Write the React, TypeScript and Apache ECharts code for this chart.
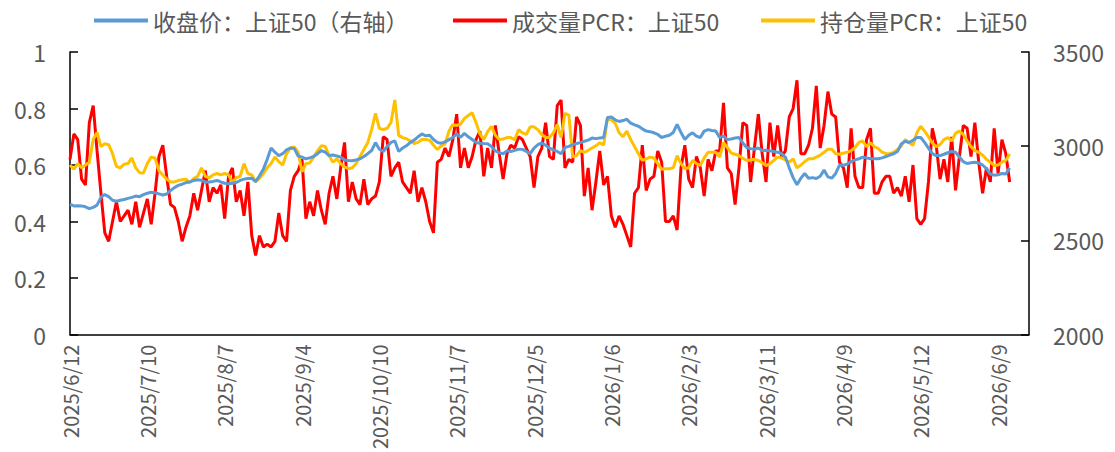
import React, { useEffect, useRef } from "react";
import * as echarts from "echarts";

const FONT = "'Noto Sans CJK SC', 'Noto Sans', sans-serif";

const START_DATE = "2025-06-12";
const CATEGORY_COUNT = 249;
const HOLIDAYS = [
  "2025-10-01", "2025-10-02", "2025-10-03", "2025-10-06", "2025-10-07", "2025-10-08",
  "2026-01-01", "2026-01-02",
  "2026-02-16", "2026-02-17", "2026-02-18", "2026-02-19", "2026-02-20", "2026-02-23",
  "2026-04-06", "2026-05-01", "2026-05-04", "2026-05-05", "2026-06-19",
];

function buildTradingDays(): string[] {
  const out: string[] = [];
  const d = new Date(START_DATE + "T00:00:00Z");
  while (out.length < CATEGORY_COUNT) {
    const wd = d.getUTCDay();
    const iso = d.toISOString().slice(0, 10);
    if (wd !== 0 && wd !== 6 && HOLIDAYS.indexOf(iso) < 0) {
      out.push(`${d.getUTCFullYear()}/${d.getUTCMonth() + 1}/${d.getUTCDate()}`);
    }
    d.setUTCDate(d.getUTCDate() + 1);
  }
  return out;
}

const categories = buildTradingDays();

const SERIES_NAMES = ["收盘价：上证50（右轴）", "成交量PCR：上证50", "持仓量PCR：上证50"];

// 收盘价：上证50 (right axis)
const close50 = [
  2692, 2683, 2684, 2683, 2678, 2668, 2675, 2687, 2728, 2743,
  2732, 2713, 2708, 2713, 2717, 2723, 2728, 2735, 2732, 2743,
  2750, 2755, 2753, 2747, 2741, 2746, 2765, 2780, 2792, 2798,
  2807, 2810, 2818, 2822, 2819, 2810, 2810, 2813, 2818, 2810,
  2803, 2800, 2803, 2807, 2818, 2825, 2828, 2830, 2812, 2843,
  2878, 2930, 2990, 2968, 2950, 2960, 2981, 2990, 2987, 2948,
  2942, 2933, 2938, 2945, 2960, 2977, 2968, 2950, 2953, 2948,
  2942, 2927, 2924, 2923, 2927, 2933, 2945, 2960, 2977, 3019,
  2984, 2972, 2998, 3020, 3028, 2972, 2990, 3002, 3020, 3032,
  3050, 3065, 3055, 3058, 3035, 3020, 3016, 3023, 3035, 3046,
  3065, 3047, 3068, 3050, 3035, 3020, 3016, 3014, 3013, 2998,
  2975, 2965, 2960, 2975, 2972, 2978, 2984, 2983, 2972, 2960,
  2990, 3008, 3017, 3005, 2990, 2980, 2972, 2960, 2993, 2999,
  3008, 3014, 3019, 3026, 3032, 3043, 3040, 3043, 3046, 3152,
  3155, 3140, 3131, 3136, 3143, 3122, 3113, 3106, 3092, 3080,
  3077, 3071, 3062, 3046, 3053, 3058, 3073, 3115, 3073, 3035,
  3058, 3071, 3053, 3046, 3080, 3088, 3083, 3080, 3046, 3053,
  3035, 3038, 3043, 3046, 3017, 2993, 2987, 2984, 2990, 2977,
  2978, 2975, 2972, 2968, 2960, 2942, 2885, 2833, 2795, 2830,
  2855, 2830, 2833, 2828, 2840, 2873, 2837, 2830, 2855, 2900,
  2899, 2905, 2918, 2927, 2933, 2942, 2938, 2933, 2933, 2933,
  2938, 2945, 2953, 2960, 2972, 3013, 3026, 3019, 3032, 3046,
  3046, 3020, 2990, 2960, 2950, 2950, 2957, 2965, 2972, 2968,
  2942, 2918, 2908, 2912, 2915, 2911, 2900, 2881, 2852, 2846,
  2848, 2855, 2852, 2885,
];

// 成交量PCR：上证50
const volumePCR = [
  0.62, 0.71, 0.69, 0.55, 0.53, 0.75, 0.81, 0.65, 0.50, 0.36,
  0.33, 0.40, 0.47, 0.40, 0.42, 0.44, 0.39, 0.47, 0.38, 0.43,
  0.48, 0.39, 0.50, 0.63, 0.67, 0.56, 0.46, 0.45, 0.40, 0.33,
  0.38, 0.42, 0.50, 0.44, 0.51, 0.58, 0.47, 0.52, 0.50, 0.53,
  0.41, 0.56, 0.59, 0.47, 0.51, 0.42, 0.54, 0.35, 0.28, 0.35,
  0.31, 0.32, 0.31, 0.33, 0.43, 0.35, 0.33, 0.51, 0.56, 0.58,
  0.62, 0.41, 0.47, 0.42, 0.51, 0.44, 0.39, 0.50, 0.56, 0.48,
  0.59, 0.68, 0.47, 0.54, 0.48, 0.46, 0.55, 0.46, 0.48, 0.49,
  0.54, 0.70, 0.69, 0.56, 0.59, 0.61, 0.54, 0.52, 0.50, 0.58,
  0.47, 0.52, 0.47, 0.40, 0.36, 0.61, 0.62, 0.66, 0.63, 0.69,
  0.78, 0.59, 0.66, 0.59, 0.63, 0.69, 0.72, 0.56, 0.66, 0.59,
  0.74, 0.64, 0.55, 0.64, 0.67, 0.66, 0.70, 0.69, 0.66, 0.63,
  0.52, 0.63, 0.66, 0.75, 0.63, 0.62, 0.81, 0.83, 0.59, 0.62,
  0.61, 0.77, 0.74, 0.49, 0.59, 0.44, 0.54, 0.65, 0.53, 0.56,
  0.42, 0.38, 0.42, 0.39, 0.35, 0.31, 0.50, 0.52, 0.67, 0.51,
  0.55, 0.56, 0.65, 0.61, 0.40, 0.40, 0.42, 0.37, 0.59, 0.67,
  0.55, 0.52, 0.63, 0.59, 0.49, 0.62, 0.58, 0.65, 0.65, 0.82,
  0.59, 0.57, 0.46, 0.59, 0.75, 0.74, 0.54, 0.66, 0.78, 0.64,
  0.54, 0.75, 0.63, 0.74, 0.63, 0.65, 0.77, 0.80, 0.90, 0.64,
  0.64, 0.67, 0.73, 0.88, 0.66, 0.74, 0.86, 0.78, 0.77, 0.61,
  0.59, 0.52, 0.73, 0.56, 0.52, 0.52, 0.69, 0.73, 0.50, 0.50,
  0.54, 0.56, 0.56, 0.50, 0.52, 0.49, 0.56, 0.47, 0.60, 0.41,
  0.39, 0.41, 0.54, 0.73, 0.67, 0.55, 0.62, 0.54, 0.70, 0.51,
  0.63, 0.74, 0.73, 0.63, 0.75, 0.61, 0.50, 0.59, 0.54, 0.73,
  0.57, 0.69, 0.64, 0.54,
];

// 持仓量PCR：上证50
const openInterestPCR = [
  0.600, 0.585, 0.605, 0.590, 0.600, 0.610, 0.690, 0.715, 0.665, 0.675,
  0.672, 0.640, 0.595, 0.590, 0.603, 0.605, 0.625, 0.590, 0.573, 0.572,
  0.605, 0.628, 0.625, 0.580, 0.565, 0.550, 0.540, 0.540, 0.545, 0.548,
  0.550, 0.538, 0.552, 0.560, 0.590, 0.560, 0.555, 0.565, 0.570, 0.565,
  0.570, 0.565, 0.538, 0.555, 0.560, 0.605, 0.570, 0.565, 0.541, 0.553,
  0.570, 0.590, 0.605, 0.628, 0.612, 0.600, 0.640, 0.660, 0.664, 0.645,
  0.576, 0.605, 0.607, 0.628, 0.650, 0.668, 0.666, 0.633, 0.610, 0.622,
  0.605, 0.593, 0.587, 0.590, 0.605, 0.630, 0.655, 0.679, 0.725, 0.783,
  0.730, 0.725, 0.730, 0.750, 0.830, 0.705, 0.697, 0.693, 0.685, 0.676,
  0.680, 0.690, 0.690, 0.688, 0.670, 0.655, 0.668, 0.675, 0.720, 0.743,
  0.740, 0.745, 0.765, 0.775, 0.785, 0.750, 0.710, 0.690, 0.718, 0.737,
  0.705, 0.690, 0.692, 0.697, 0.697, 0.690, 0.725, 0.714, 0.708, 0.735,
  0.735, 0.725, 0.708, 0.697, 0.697, 0.714, 0.743, 0.697, 0.783, 0.777,
  0.628, 0.633, 0.651, 0.645, 0.652, 0.660, 0.668, 0.679, 0.671, 0.766,
  0.760, 0.748, 0.714, 0.700, 0.720, 0.690, 0.665, 0.640, 0.616, 0.622,
  0.628, 0.625, 0.605, 0.585, 0.587, 0.587, 0.590, 0.633, 0.605, 0.587,
  0.590, 0.616, 0.605, 0.599, 0.625, 0.645, 0.645, 0.645, 0.628, 0.679,
  0.662, 0.642, 0.638, 0.633, 0.624, 0.616, 0.618, 0.620, 0.616, 0.608,
  0.598, 0.605, 0.616, 0.628, 0.625, 0.618, 0.610, 0.622, 0.590, 0.600,
  0.612, 0.622, 0.622, 0.628, 0.635, 0.645, 0.656, 0.656, 0.640, 0.638,
  0.642, 0.645, 0.651, 0.662, 0.680, 0.685, 0.665, 0.679, 0.665, 0.658,
  0.646, 0.640, 0.640, 0.645, 0.655, 0.668, 0.690, 0.679, 0.670, 0.714,
  0.737, 0.720, 0.700, 0.678, 0.665, 0.672, 0.690, 0.697, 0.685, 0.712,
  0.720, 0.708, 0.685, 0.665, 0.651, 0.645, 0.635, 0.620, 0.610, 0.598,
  0.600, 0.610, 0.616, 0.639,
];

const COLORS = ["#5B9BD5", "#FF0000", "#FFC000"];
const LABEL_COLOR = "#595959";

export default function App() {
  const ref = useRef<HTMLDivElement>(null);

  useEffect(() => {
    if (!ref.current) return;
    const chart = echarts.init(ref.current, null, { renderer: "svg" });

    const legendBase = {
      icon: "rect",
      itemWidth: 54,
      itemHeight: 4,
      top: 4,
      textStyle: { color: LABEL_COLOR, fontSize: 23, fontFamily: FONT },
    };

    const axisLineStyle = { color: "#000", width: 1.5 };
    const plainNumber = (v: number) => String(v);

    chart.setOption({
      animation: false,
      textStyle: { fontFamily: FONT },
      grid: { left: 70, right: 86, top: 52, bottom: 110, containLabel: false },
      legend: [
        { ...legendBase, left: 89, data: [SERIES_NAMES[0]] },
        { ...legendBase, left: 448, data: [SERIES_NAMES[1]] },
        { ...legendBase, left: 756, data: [SERIES_NAMES[2]] },
      ],
      xAxis: {
        type: "category",
        data: categories,
        boundaryGap: false,
        axisLine: { show: true, lineStyle: axisLineStyle },
        axisTick: { show: false },
        splitLine: { show: false },
        axisLabel: {
          interval: 19,
          rotate: 90,
          color: LABEL_COLOR,
          fontSize: 20,
          margin: 10,
          fontFamily: FONT,
        },
      },
      yAxis: [
        {
          type: "value",
          min: 0,
          max: 1,
          interval: 0.2,
          position: "left",
          axisLine: { show: true, lineStyle: axisLineStyle },
          axisTick: { show: true, inside: true, length: 8, lineStyle: axisLineStyle },
          splitLine: { show: false },
          axisLabel: { color: LABEL_COLOR, fontSize: 23, margin: 24, fontFamily: FONT, formatter: plainNumber },
        },
        {
          type: "value",
          min: 2000,
          max: 3500,
          interval: 500,
          position: "right",
          axisLine: { show: true, lineStyle: axisLineStyle },
          axisTick: { show: true, inside: true, length: 8, lineStyle: axisLineStyle },
          splitLine: { show: false },
          axisLabel: { color: LABEL_COLOR, fontSize: 23, margin: 24, fontFamily: FONT, formatter: plainNumber },
        },
      ],
      series: [
        {
          name: SERIES_NAMES[1],
          type: "line",
          data: volumePCR,
          yAxisIndex: 0,
          symbol: "none",
          showSymbol: false,
          lineStyle: { color: COLORS[1], width: 3 },
          itemStyle: { color: COLORS[1] },
          z: 2,
        },
        {
          name: SERIES_NAMES[2],
          type: "line",
          data: openInterestPCR,
          yAxisIndex: 0,
          symbol: "none",
          showSymbol: false,
          lineStyle: { color: COLORS[2], width: 3 },
          itemStyle: { color: COLORS[2] },
          z: 3,
        },
        {
          name: SERIES_NAMES[0],
          type: "line",
          data: close50,
          yAxisIndex: 1,
          symbol: "none",
          showSymbol: false,
          lineStyle: { color: COLORS[0], width: 3 },
          itemStyle: { color: COLORS[0] },
          z: 4,
        },
      ],
    });

    return () => chart.dispose();
  }, []);

  return (
    <div
      ref={ref}
      style={{ position: "absolute", left: 0, top: 0, width: 1115, height: 452 }}
    />
  );
}
